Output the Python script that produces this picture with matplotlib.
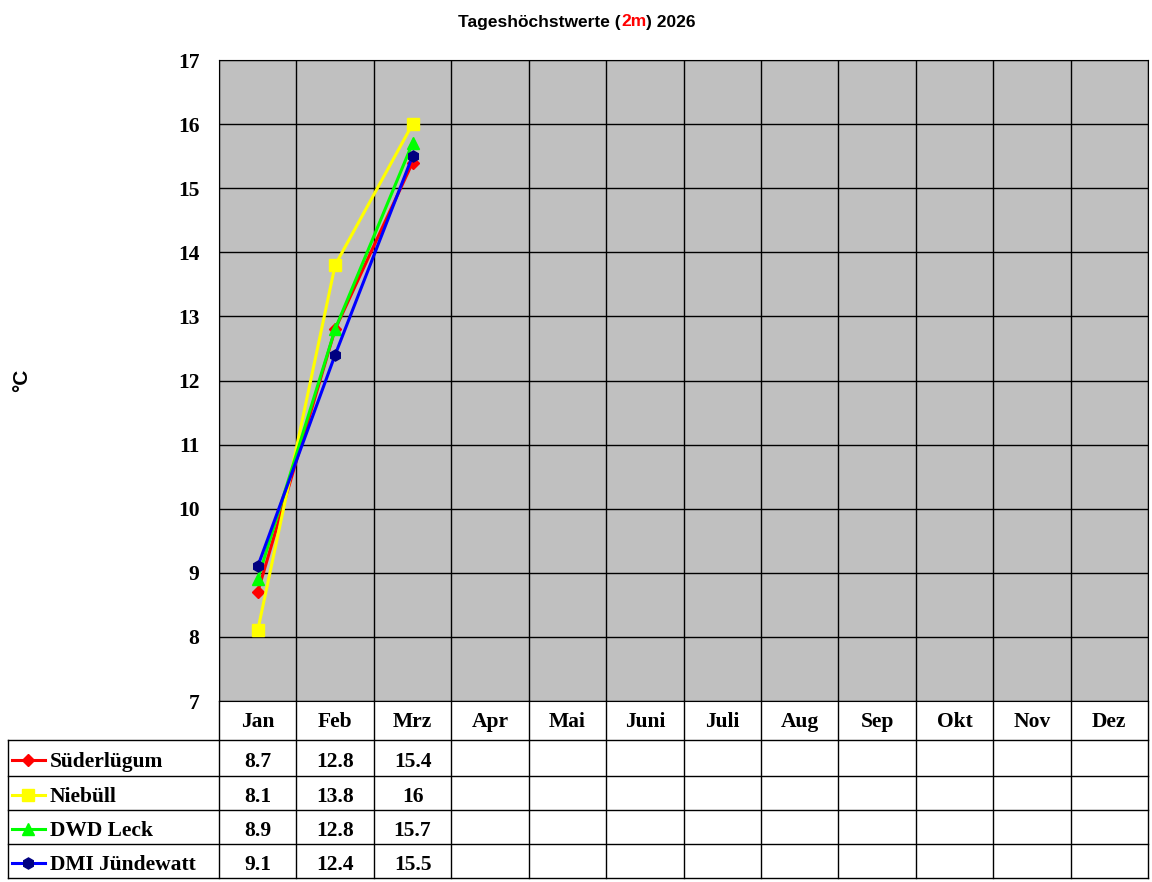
import matplotlib
matplotlib.use("Agg")
import matplotlib.pyplot as plt

months = ["Jan", "Feb", "Mrz", "Apr", "Mai", "Juni", "Juli", "Aug", "Sep", "Okt", "Nov", "Dez"]
stations = ["Süderlügum", "Niebüll", "DWD Leck", "DMI Jündewatt"]
suederluegum = [8.7, 12.8, 15.4]
niebuell = [8.1, 13.8, 16]
leck = [8.9, 12.8, 15.7]
juendewatt = [9.1, 12.4, 15.5]
series = [suederluegum, niebuell, leck, juendewatt]
labels_txt = [["8.7", "12.8", "15.4"], ["8.1", "13.8", "16"], ["8.9", "12.8", "15.7"], ["9.1", "12.4", "15.5"]]

line_cols = ["#FF0000", "#FFFF00", "#00FF00", "#0000FF"]
mark_cols = ["#FF0000", "#FFFF00", "#00FF00", "#000080"]
markers = ["D", "s", "^", "h"]
msizes = [6, 8, 8, 8]

W, H = 1152, 882
fig = plt.figure(figsize=(W / 100, H / 100), dpi=100)
serif = "Liberation Serif"
sans = "Liberation Sans"
fs = 15.5

# Plotbereich in Pixeln
x0, x1, y0, y1 = 219, 1148, 60, 701
ax = fig.add_axes([x0 / W, 1 - y1 / H, (x1 - x0) / W, (y1 - y0) / H])
ax.set_facecolor("#C0C0C0")
ax.set_xlim(-0.5, 11.5)
ax.set_ylim(7, 17)
for k in range(13):
    ax.axvline(k - 0.5, color="black", lw=1)
for v in range(7, 18):
    ax.axhline(v, color="black", lw=1)
xs = list(range(3))
for s, lc, mc, m, ms in zip(series, line_cols, mark_cols, markers, msizes):
    ax.plot(xs, s, color=lc, lw=2.2, marker=m, ms=ms, mfc=mc, mec=mc, zorder=3)
ax.set_xticks([])
ax.set_yticks(range(7, 18))
ax.set_yticklabels([str(v) for v in range(7, 18)], fontfamily=serif, fontweight="bold", fontsize=fs)
ax.tick_params(axis="y", length=0, pad=14)

# Tabelle
tb = fig.add_axes([0, 0, 1, 1], facecolor="none")
tb.set_xlim(0, W)
tb.set_ylim(H, 0)
tb.axis("off")
colw = (x1 - x0) / 12
rows = [740, 776, 810, 844, 878]
for r in rows:
    tb.plot([8, x1], [r, r], color="black", lw=1)
tb.plot([8, 8], [740, 878], color="black", lw=1)
for k in range(13):
    xx = x0 + k * colw
    tb.plot([xx, xx], [y1, 878], color="black", lw=1)
for k, mth in enumerate(months):
    tb.text(x0 + (k + 0.5) * colw, 722, mth, ha="center", va="center",
            fontfamily=serif, fontweight="bold", fontsize=fs)
for i, name in enumerate(stations):
    yc = (rows[i] + rows[i + 1]) / 2 + 4
    tb.plot([12, 45], [yc - 2, yc - 2], color=line_cols[i], lw=2.2)
    tb.plot([28], [yc - 2], marker=markers[i], ms=msizes[i], color=mark_cols[i])
    tb.text(50, yc, name, ha="left", va="center", fontfamily=serif, fontweight="bold", fontsize=fs)
    for k, t in enumerate(labels_txt[i]):
        tb.text(x0 + (k + 0.5) * colw, yc, t, ha="center", va="center",
                fontfamily=serif, fontweight="bold", fontsize=fs)

fig.text(22 / W, 1 - 380 / H, "°C", rotation=90, ha="center", va="center",
         fontfamily=sans, fontweight="bold", fontsize=15)

# Titel aus drei Teilen, zentriert
parts = [("Tageshöchstwerte (", "black"), ("2m", "red"), (") 2026", "black")]
r = fig.canvas.get_renderer()
texts = [fig.text(0, 1 - 22 / H, p, color=c, ha="left", va="center",
                  fontfamily=sans, fontweight="bold", fontsize=12.5) for p, c in parts]
widths = [t.get_window_extent(r).width for t in texts]
x = 577 - sum(widths) / 2
for t, w in zip(texts, widths):
    t.set_x(x / W)
    x += w

fig.savefig("out.png", dpi=100)
